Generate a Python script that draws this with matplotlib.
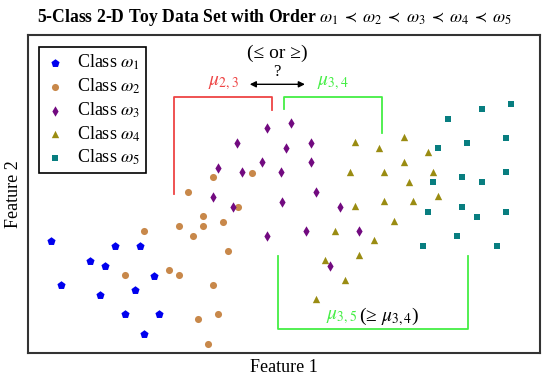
import matplotlib
matplotlib.use('Agg')
from matplotlib import pyplot as plt

plt.rcParams['font.family'] = ['Liberation Serif', 'DejaVu Serif']
plt.rcParams['mathtext.fontset'] = 'stix'

# class data (feature 1, feature 2)
c1_x = [23.3, 33, 62.3, 77.3, 87.3, 111.7, 72, 106.5, 126, 97, 131.3, 116.3]
c1_y = [112, 68.3, 92.3, 87.5, 107.3, 107.3, 58.3, 63, 77.5, 38.7, 38.7, 19]

c2_x = [160.3, 209.7, 175, 150.7, 175, 194.7, 116.3, 165.2, 199.7, 140.8, 150.5, 97, 185,
        170.2, 189.7, 180, 184.5, 224.3]
c2_y = [160.7, 146.3, 136.7, 126.7, 126.7, 131.5, 122, 117, 102.3, 82.7, 77.7, 77.7, 68,
        33.8, 38.7, 9.3, 175.7, 180.5]

c3_x = [238.7, 263, 209.3, 258, 233.7, 189.7, 214, 253.3, 184.7, 253.5, 204.5, 282.7, 282.7,
        287.7, 312, 277.5, 331.3, 302, 238.7]
c3_y = [224.7, 229.7, 210.3, 204.7, 190.7, 185.3, 180.7, 180.7, 156.3, 151, 146.3, 210, 190.7,
        161, 146.3, 122, 122, 87.3, 117]

c4_x = [326.7, 351, 375.7, 400, 375.7, 322, 356, 404.7, 380.5, 409.7, 356, 385.3, 326.7, 366,
        307.3, 346.3, 331.3, 297.2, 317, 287.7]
c4_y = [210.7, 205.5, 215.7, 200.7, 191, 181.3, 181.3, 181.3, 171.5, 156.8, 151.7, 151.7,
        146.8, 132, 122.3, 112.7, 98.2, 93, 73.5, 54]

c5_x = [483.3, 453.7, 419.7, 478.3, 439.3, 410, 478.3, 434.3, 404.7, 453.7, 400, 434.3, 449,
        478.3, 429.3, 395.3, 468.7]
c5_y = [249.3, 244, 234.5, 214.7, 210, 204.8, 180.7, 175.8, 170.7, 170.7, 141.5, 146.3, 136.5,
        141.5, 116.8, 107.3, 107.3]

fig = plt.figure(figsize=(5.5, 3.78), dpi=100)
ax = fig.add_axes([28/550, 1-353/378, 512/550, 318/378])

ax.scatter(c1_x, c1_y, marker='p', s=38, color='#0000ee', linewidths=0, label=r'Class $\omega_1$')
ax.scatter(c2_x, c2_y, marker='o', s=26, color='#c8884a', linewidths=0, label=r'Class $\omega_2$')
ax.scatter(c3_x, c3_y, marker='d', s=28, color='#720a80', linewidths=0, label=r'Class $\omega_3$')
ax.scatter(c4_x, c4_y, marker='^', s=28, color='#9a8c12', linewidths=0, label=r'Class $\omega_4$')
ax.scatter(c5_x, c5_y, marker='s', s=20, color='#087e80', linewidths=0, label=r'Class $\omega_5$')

red = '#ee4444'
green = '#44ee44'
# brackets
ax.plot([145.5, 145.5, 243.5, 243.5], [159, 256.5, 256.5, 243.5], color=red, lw=1.3)
ax.plot([255.7, 255.7, 353.5, 353.5], [244.5, 256.5, 256.5, 220.5], color=green, lw=1.3)
ax.plot([249.5, 249.5, 439.7, 439.7], [97, 24, 24, 97], color=green, lw=1.3)

ax.annotate('', xy=(219, 268.7), xytext=(279.7, 268.7),
            arrowprops=dict(arrowstyle='<|-|>', color='black', lw=1, mutation_scale=9))
ax.text(249, 300, '(≤ or ≥)', ha='center', va='center', fontsize=14)
ax.text(249, 281, '?', ha='center', va='center', fontsize=12)
ax.text(195, 270, r'$\mu_{2,3}$', ha='center', va='center', fontsize=14, color=red)
ax.text(305, 270, r'$\mu_{3,4}$', ha='center', va='center', fontsize=14, color=green)
ax.text(298, 36, r'$\mu_{3,5}$', ha='left', va='center', fontsize=14, color=green)
ax.text(331, 36, '(≥ ' + r'$\mu_{3,4}$)', ha='left', va='center', fontsize=14)

ax.set_xlim(0, 512)
ax.set_ylim(0, 318)
ax.set_xticks([])
ax.set_yticks([])
for sp in ax.spines.values():
    sp.set_color('#333333')
    sp.set_linewidth(1.5)

ax.set_xlabel('Feature 1', fontsize=13, labelpad=4)
ax.set_ylabel('Feature 2', fontsize=13, labelpad=4)
fig.suptitle(r'5-Class 2-D Toy Data Set with Order $\omega_1 \;\prec\; \omega_2 \;\prec\; \omega_3 \;\prec\; \omega_4 \;\prec\; \omega_5$',
             fontsize=12.7, fontweight='bold', x=0.5, y=0.982)

leg = ax.legend(loc='upper left', bbox_to_anchor=(11/512, 1-12/318), borderaxespad=0,
                fancybox=False, edgecolor='black', framealpha=1, fontsize=13,
                handletextpad=0.6, labelspacing=0.25, borderpad=0.3, handlelength=1.2,
                scatterpoints=1)
leg.get_frame().set_linewidth(1.2)

fig.savefig('out.png', dpi=100)
